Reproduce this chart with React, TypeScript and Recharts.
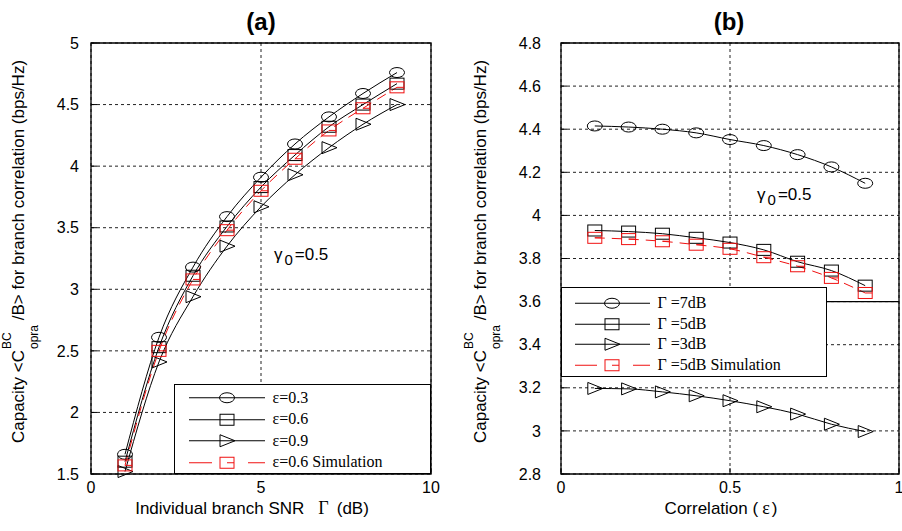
import React from "react";
import {
  LineChart,
  Line,
  XAxis,
  YAxis,
  CartesianGrid,
  ReferenceArea,
  ReferenceLine,
  ReferenceDot,
  Legend,
} from "recharts";

const SANS = "'Liberation Sans', Arial, Helvetica, sans-serif";
const SERIF = "'Liberation Serif', 'Times New Roman', serif";
const RED = "#f01010";

// (a) capacity vs individual branch SNR (gamma0 = 0.5)
const snrDb = [1, 2, 3, 4, 5, 6, 7, 8, 9];
const capEps03 = [1.66, 2.61, 3.18, 3.59, 3.91, 4.18, 4.4, 4.59, 4.76];
const capEps06 = [1.6, 2.53, 3.11, 3.51, 3.83, 4.09, 4.32, 4.5, 4.67];
const capEps09 = [1.52, 2.41, 2.94, 3.35, 3.67, 3.93, 4.15, 4.34, 4.5];
const capEps06Sim = [1.57, 2.5, 3.08, 3.48, 3.8, 4.06, 4.29, 4.47, 4.64];
const snrTicks = [0, 5, 10];
const capTicksA = [1.5, 2, 2.5, 3, 3.5, 4, 4.5, 5];
const legendA = ["ε=0.3", "ε=0.6", "ε=0.9", "ε=0.6 Simulation"];

// (b) capacity vs correlation
const corr = [0.1, 0.2, 0.3, 0.4, 0.5, 0.6, 0.7, 0.8, 0.9];
const cap7dB = [4.415, 4.41, 4.4, 4.383, 4.352, 4.324, 4.282, 4.225, 4.149];
const cap5dB = [3.93, 3.925, 3.915, 3.896, 3.874, 3.84, 3.785, 3.744, 3.674];
const cap3dB = [3.197, 3.195, 3.181, 3.163, 3.14, 3.112, 3.078, 3.031, 2.997];
const cap5dBSim = [3.896, 3.89, 3.88, 3.864, 3.845, 3.806, 3.764, 3.71, 3.64];
const corrTicks = [0, 0.5, 1];
const capTicksB = [2.8, 3, 3.2, 3.4, 3.6, 3.8, 4, 4.2, 4.4, 4.6, 4.8];
const legendB = ["Γ =7dB", "Γ =5dB", "Γ =3dB", "Γ =5dB Simulation"];

type MarkerKind = "circle" | "square" | "triangle" | "sim";
const markers: MarkerKind[] = ["circle", "square", "triangle", "sim"];
const seriesKeys = ["s0", "s1", "s2", "s3"];

const dataA = snrDb.map((x, i) => ({
  x,
  s0: capEps03[i],
  s1: capEps06[i],
  s2: capEps09[i],
  s3: capEps06Sim[i],
}));

const dataB = corr.map((x, i) => ({
  x,
  s0: cap7dB[i],
  s1: cap5dB[i],
  s2: cap3dB[i],
  s3: cap5dBSim[i],
}));

const Marker = ({ kind, cx, cy }: { kind: MarkerKind; cx: number; cy: number }) => {
  if (kind === "circle")
    return <ellipse cx={cx} cy={cy} rx={7.5} ry={5} fill="none" stroke="#000" strokeWidth={1} />;
  if (kind === "square")
    return <rect x={cx - 7} y={cy - 5.5} width={14} height={11} fill="none" stroke="#000" strokeWidth={1} />;
  if (kind === "triangle")
    return (
      <path
        d={`M${cx - 7},${cy - 6} L${cx + 8},${cy} L${cx - 7},${cy + 6} Z`}
        fill="none"
        stroke="#000"
        strokeWidth={1}
      />
    );
  return (
    <g>
      <rect x={cx - 7} y={cy - 5.5} width={14} height={11} fill="none" stroke={RED} strokeWidth={1} />
      <line x1={cx} y1={cy} x2={cx + 7} y2={cy} stroke={RED} strokeWidth={1} />
    </g>
  );
};

const renderDot = (kind: MarkerKind) => (p: any) => {
  if (p.cx == null || p.cy == null) return <g key={`${kind}-${p.index}`} />;
  return <Marker key={`${kind}-${p.index}`} kind={kind} cx={p.cx} cy={p.cy} />;
};

const LegendBox = ({
  labels,
  padTop,
  rowH,
  lineFrom,
  lineTo,
  mark,
  textX,
}: {
  labels: string[];
  padTop: number;
  rowH: number;
  lineFrom: number;
  lineTo: number;
  mark: number;
  textX: number;
}) => (
  <div
    style={{
      width: "100%",
      height: "100%",
      boxSizing: "border-box",
      border: "1.5px solid #000",
      background: "#fff",
      paddingTop: padTop,
      fontFamily: SERIF,
      fontSize: 16,
      color: "#000",
    }}
  >
    {labels.map((label, i) => (
      <div key={label} style={{ display: "flex", alignItems: "center", height: rowH }}>
        <svg width={textX} height={rowH} style={{ flex: "none", marginLeft: -1.5 }}>
          {i < 3 ? (
            <line x1={lineFrom} y1={rowH / 2} x2={lineTo} y2={rowH / 2} stroke="#000" strokeWidth={1} />
          ) : (
            <g>
              <line x1={lineFrom} y1={rowH / 2} x2={mark - 15} y2={rowH / 2} stroke={RED} strokeWidth={1} />
              <line x1={mark + 21} y1={rowH / 2} x2={lineTo} y2={rowH / 2} stroke={RED} strokeWidth={1} />
            </g>
          )}
          <Marker kind={markers[i]} cx={mark} cy={rowH / 2} />
        </svg>
        <span style={{ whiteSpace: "pre" }}>{label}</span>
      </div>
    ))}
  </div>
);

const CapacityLabel = ({ cx, cy }: { cx: number; cy: number }) => (
  <text
    x={cx}
    y={cy}
    transform={`rotate(-90 ${cx} ${cy})`}
    textAnchor="middle"
    fontFamily={SANS}
    fontSize={17}
    fill="#000"
  >
    {"Capacity <C"}
    <tspan dx={1} dy={-13} fontSize={12}>
      BC
    </tspan>
    <tspan dx={-16.7} dy={27} fontSize={12}>
      opra
    </tspan>
    <tspan dy={-14}>{" /B> for branch correlation (bps/Hz)"}</tspan>
  </text>
);

const Gamma0Note = ({ cx, cy }: { cx: number; cy: number }) => (
  <text x={cx} y={cy} fontFamily={SANS} fontSize={17} fill="#000">
    γ
    <tspan dx={2} dy={5} fontSize={15}>
      0
    </tspan>
    <tspan dx={2} dy={-5}>
      =0.5
    </tspan>
  </text>
);

const tickStyle = { fill: "#000", fontSize: 16, fontFamily: SANS };
const fmt = (v: number) => String(Number(v.toFixed(1)));

const seriesLines = () =>
  seriesKeys.map((k, i) => (
    <Line
      key={k}
      dataKey={k}
      type="monotone"
      stroke={i === 3 ? RED : "#000"}
      strokeWidth={1}
      strokeDasharray={i === 3 ? "10 7" : undefined}
      dot={renderDot(markers[i])}
      activeDot={false}
      isAnimationActive={false}
    />
  ));

const PanelA = () => (
  <LineChart width={450} height={531} data={dataA} margin={{ top: 43, right: 19, bottom: 0, left: 0 }}>
    <CartesianGrid stroke="#222" strokeDasharray="3 3" />
    <XAxis
      type="number"
      dataKey="x"
      domain={[0, 10]}
      ticks={snrTicks}
      interval={0}
      height={57}
      axisLine={false}
      tickLine={{ stroke: "#000" }}
      tickSize={-6}
      tickMargin={14}
      tick={tickStyle}
      label={(p: any) => (
        <text
          x={p.viewBox.x + p.viewBox.width / 2 - 9}
          y={p.viewBox.y + 40}
          textAnchor="middle"
          fontFamily={SANS}
          fontSize={17}
          fill="#000"
        >
          Individual branch SNR
          <tspan dx={14} fontFamily={SERIF} fontSize={18}>
            Γ
          </tspan>
          <tspan dx={8}>(dB)</tspan>
        </text>
      )}
    />
    <YAxis
      type="number"
      domain={[1.5, 5]}
      ticks={capTicksA}
      interval={0}
      width={91}
      axisLine={false}
      tickLine={{ stroke: "#000" }}
      tickSize={-6}
      tickMargin={18}
      tick={tickStyle}
      tickFormatter={fmt}
      label={(p: any) => <CapacityLabel cx={p.viewBox.x + 24} cy={p.viewBox.y + p.viewBox.height / 2 - 7} />}
    />
    <ReferenceArea x1={0} x2={10} y1={1.5} y2={5} fill="#fff" fillOpacity={0} stroke="#000" strokeWidth={1.3} />
    <ReferenceDot x={5.38} y={3.24} r={0} ifOverflow="visible" shape={(p: any) => <Gamma0Note cx={p.cx} cy={p.cy} />} />
    {seriesLines()}
    <Legend
      layout="vertical"
      align="center"
      verticalAlign="middle"
      wrapperStyle={{ left: 174, top: 384, width: 257, height: 90 }}
      content={() => (
        <LegendBox labels={legendA} padTop={2} rowH={21.5} lineFrom={15} lineTo={91} mark={53} textX={99} />
      )}
    />
  </LineChart>
);

const PanelB = () => (
  <LineChart width={451} height={531} data={dataB} margin={{ top: 43, right: 3, bottom: 0, left: 0 }}>
    <CartesianGrid stroke="#222" strokeDasharray="3 3" />
    <XAxis
      type="number"
      dataKey="x"
      domain={[0, 1]}
      ticks={corrTicks}
      interval={0}
      height={57}
      axisLine={false}
      tickLine={{ stroke: "#000" }}
      tickSize={-6}
      tickMargin={14}
      tick={tickStyle}
      label={(p: any) => (
        <text
          x={p.viewBox.x + p.viewBox.width / 2 - 9}
          y={p.viewBox.y + 40}
          textAnchor="middle"
          fontFamily={SANS}
          fontSize={17}
          fill="#000"
        >
          {"Correlation ("}
          <tspan dx={4} fontFamily={SERIF} fontSize={18}>
            ε
          </tspan>
          <tspan dx={2}>)</tspan>
        </text>
      )}
    />
    <YAxis
      type="number"
      domain={[2.8, 4.8]}
      ticks={capTicksB}
      interval={0}
      width={110}
      axisLine={false}
      tickLine={{ stroke: "#000" }}
      tickSize={-6}
      tickMargin={26}
      tick={tickStyle}
      tickFormatter={fmt}
      label={(p: any) => <CapacityLabel cx={p.viewBox.x + 35} cy={p.viewBox.y + p.viewBox.height / 2 - 7} />}
    />
    <ReferenceLine y={3.6} stroke="#000" strokeWidth={1.3} />
    <ReferenceArea x1={0} x2={1} y1={2.8} y2={4.8} fill="#fff" fillOpacity={0} stroke="#000" strokeWidth={1.3} />
    <ReferenceDot x={0.58} y={4.07} r={0} ifOverflow="visible" shape={(p: any) => <Gamma0Note cx={p.cx} cy={p.cy} />} />
    {seriesLines()}
    <Legend
      layout="vertical"
      align="center"
      verticalAlign="middle"
      wrapperStyle={{ left: 110, top: 287, width: 266, height: 90 }}
      content={() => (
        <LegendBox labels={legendB} padTop={5} rowH={20.5} lineFrom={14} lineTo={89} mark={51} textX={97} />
      )}
    />
  </LineChart>
);

export default function App() {
  return (
    <div style={{ position: "absolute", left: 0, top: 0, width: 902, height: 531, background: "#fff" }}>
      <div style={{ position: "absolute", left: 0, top: 0 }}>
        <PanelA />
      </div>
      <div style={{ position: "absolute", left: 451, top: 0 }}>
        <PanelB />
      </div>
      <svg width={902} height={40} style={{ position: "absolute", left: 0, top: 0, pointerEvents: "none" }}>
        <text x={261} y={30} textAnchor="middle" fontFamily={SANS} fontSize={24} fontWeight="bold" fill="#000">
          (a)
        </text>
        <text x={729} y={30} textAnchor="middle" fontFamily={SANS} fontSize={24} fontWeight="bold" fill="#000">
          (b)
        </text>
      </svg>
    </div>
  );
}
